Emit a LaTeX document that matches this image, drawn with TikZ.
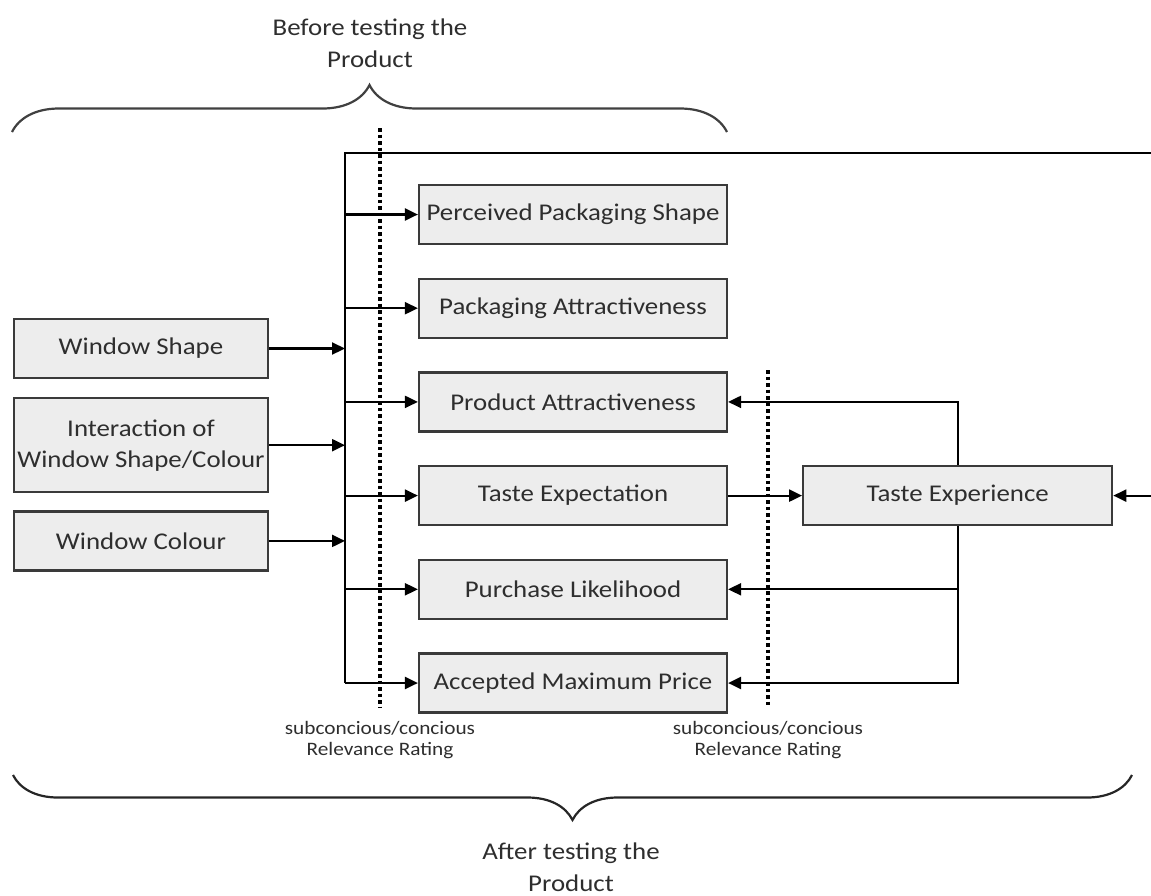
\documentclass[tikz,border=0pt]{standalone}
\usepackage{fontspec}
\setmainfont{Carlito}[FakeStretch=1.12]
\usepackage{xcolor}
\usetikzlibrary{
  arrows.meta,
  positioning,
  decorations.pathreplacing
}
\definecolor{boxfill}{HTML}{EDEDED}
\definecolor{boxline}{HTML}{3A3A3A}
\definecolor{inktext}{HTML}{2E2E2E}
\tikzset{
  arrow/.style    = {-{Triangle[length=13pt, width=12pt]}, line width=2.2pt},
  wire/.style     = {line width=2.2pt},
  dotline/.style  = {line width=3.5pt, dash pattern=on 3.5pt off 3pt},
  brace/.style    = {decorate, decoration={brace, amplitude=47pt},
                     line width=2.2pt, black!75},
  bracedown/.style = {decorate, decoration={brace, amplitude=45pt, mirror},
                     line width=2.2pt, black!85},
  box/.style      = {draw=boxline, line width=2.2pt, fill=boxfill,
                     minimum height=59pt, align=center, text=inktext,
                     font=\fontsize{24}{31}\selectfont, inner sep=2pt},
  inbox/.style    = {box, minimum width=254pt},
  midbox/.style   = {box, minimum width=308pt},
  caption/.style  = {align=center, text=inktext,
                     font=\fontsize{24}{32}\selectfont},
  rating/.style   = {align=center, text=inktext,
                     font=\fontsize{19}{21}\selectfont},
}

\begin{document}
\begin{tikzpicture}[x=1pt, y=-1pt, node distance=32.5pt]
\useasboundingbox (0,0) rectangle (1151,895);

% ========== INPUTS ==========
\node[inbox] (wshape) at (141,348.5) {Window Shape};
\node[inbox, minimum height=94pt, below=18pt of wshape] (winter)
  {Interaction of\\Window Shape/Colour};
\node[inbox, below=17pt of winter] (wcolour) {Window Colour};

% ========== RATINGS ==========
\node[midbox] (pshape) at (573,214.5) {Perceived Packaging Shape};
\node[midbox, below=of pshape] (pattr) {Packaging Attractiveness};
\node[midbox, below=of pattr] (prodattr) {Product Attractiveness};
\node[midbox, below=of prodattr] (texp) {Taste Expectation};
\node[midbox, below=of texp] (plikely) {Purchase Likelihood};
\node[midbox, below=of plikely] (maxprice) {Accepted Maximum Price};

\node[box, minimum width=309pt, right=74pt of texp] (tasting) {Taste Experience};

% bus and the loop that leaves on the right
\coordinate (bus) at (345,153);
\coordinate (edge) at (1151,153);

\draw[wire] (maxprice -| bus) -- (bus) -- (edge);
\foreach \src in {wshape,winter,wcolour}
  \draw[arrow] (\src) -- (\src -| bus);
\foreach \dst in {pshape,pattr,prodattr,texp,plikely,maxprice}
  \draw[arrow] (\dst -| bus) -- (\dst.west);

\draw[arrow] (texp) -- (tasting);
\draw[arrow] (tasting -| edge) -- (tasting.east);
\draw[arrow] (tasting.north) |- (prodattr.east);
\draw[arrow] (tasting.south) |- (maxprice.east);
\draw[arrow] (tasting.south |- plikely) -- (plikely.east);

% relevance cuts
\coordinate (cut1top) at (380,128);
\coordinate (cut1bot) at (380,708);
\coordinate (cut2top) at (768,370);
\coordinate (cut2bot) at (768,708);
\draw[dotline] (cut1top) -- (cut1bot);
\draw[dotline] (cut2top) -- (cut2bot);
\node[rating, below=10pt of cut1bot] (rate1) {subconcious/concious\\Relevance Rating};
\node[rating, below=10pt of cut2bot] (rate2) {subconcious/concious\\Relevance Rating};

% phases
\coordinate (bfrom) at (12,132);
\coordinate (bto) at (727,132);
\draw[brace] (bfrom) -- (bto);
\node[caption] (before) at (370,43) {Before testing the\\Product};

\coordinate (afrom) at (13,775);
\coordinate (ato) at (1132,775);
\draw[bracedown] (afrom) -- (ato);
\node[caption] (after) at (571,867) {After testing the\\Product};

\end{tikzpicture}
\end{document}
